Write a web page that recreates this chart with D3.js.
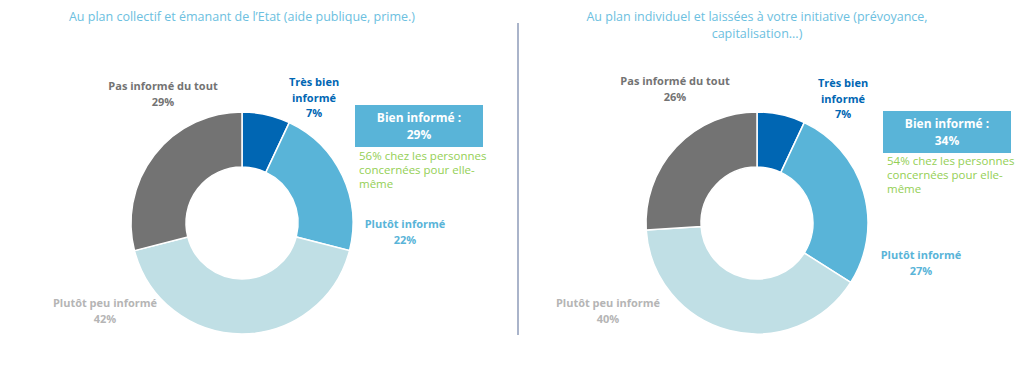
<!DOCTYPE html>
<html>
<head>
  <meta charset="utf-8">
  <title>Niveau d'information</title>
  <style>
    body { margin: 0; background: #fff; }
    text { font-family: "Open Sans", sans-serif; }
  </style>
</head>
<body>
  <svg width="1024" height="376"></svg>
  <script src="https://d3js.org/d3.v7.min.js"></script>
  <script>
    // categories, in clockwise order starting at 12 o'clock
    var categories = ["Très bien informé", "Plutôt informé", "Plutôt peu informé", "Pas informé du tout"];
    var colors = ["#0066b3", "#59b4d8", "#c0dfe5", "#737373"];
    var labelColors = ["#0066b3", "#59b4d8", "#b5b5b5", "#737373"];

    var collectifValues = [7, 22, 42, 29];
    var individuelValues = [7, 27, 40, 26];

    var titles = [
      ["Au plan collectif et émanant de l’Etat (aide publique, prime.)"],
      ["Au plan individuel et laissées à votre initiative (prévoyance,", "capitalisation...)"]
    ];
    var bienInforme = [29, 34];
    var concernees = [56, 54];

    var svg = d3.select("svg");

    // label placement per chart: [x, y] of first line, relative to donut centre
    var charts = [
      {
        values: collectifValues, cx: 242, cy: 223, title: titles[0], bien: bienInforme[0], conc: concernees[0],
        labels: [[72, -137, ["Très bien", "informé"]], [163, 5, ["Plutôt informé"]], [-137, 84, ["Plutôt peu informé"]], [-79, -133, ["Pas informé du tout"]]],
        box: [113, -118], note: [117, -63]
      },
      {
        values: individuelValues, cx: 757, cy: 223, title: titles[1], bien: bienInforme[1], conc: concernees[1],
        labels: [[86, -136, ["Très bien", "informé"]], [164, 36, ["Plutôt informé"]], [-149, 84, ["Plutôt peu informé"]], [-82, -138, ["Pas informé du tout"]]],
        box: [126, -112], note: [130, -58]
      }
    ];

    var pie = d3.pie().sort(null);
    var arc = d3.arc().innerRadius(56).outerRadius(111);

    charts.forEach(function (c) {
      var g = svg.append("g").attr("transform", "translate(" + c.cx + "," + c.cy + ")");

      g.selectAll("path")
        .data(pie(c.values))
        .enter()
        .append("path")
        .attr("d", arc)
        .attr("fill", function (d, i) { return colors[i]; })
        .attr("stroke", "#fff")
        .attr("stroke-width", 1.5);

      // title
      svg.append("g").selectAll("text")
        .data(c.title)
        .enter()
        .append("text")
        .attr("x", c.cx)
        .attr("y", function (d, i) { return 21 + i * 17; })
        .attr("text-anchor", "middle")
        .attr("font-size", 12.5)
        .attr("fill", "#6cc0e0")
        .text(function (d) { return d; });

      // slice labels
      c.labels.forEach(function (l, i) {
        var lines = l[2].concat([c.values[i] + "%"]);
        g.append("g").selectAll("text")
          .data(lines)
          .enter()
          .append("text")
          .attr("x", l[0])
          .attr("y", function (d, j) { return l[1] + j * 15.5; })
          .attr("text-anchor", "middle")
          .attr("font-size", 11)
          .attr("font-weight", "bold")
          .attr("fill", labelColors[i])
          .text(function (d) { return d; });
      });

      // "Bien informé" box
      g.append("rect")
        .attr("x", c.box[0])
        .attr("y", c.box[1])
        .attr("width", 128)
        .attr("height", 42)
        .attr("fill", "#59b4d8");
      g.append("g").selectAll("text")
        .data(["Bien informé :", c.bien + "%"])
        .enter()
        .append("text")
        .attr("x", c.box[0] + 64)
        .attr("y", function (d, j) { return c.box[1] + 17 + j * 17; })
        .attr("text-anchor", "middle")
        .attr("font-size", 12)
        .attr("font-weight", "bold")
        .attr("fill", "#fff")
        .text(function (d) { return d; });

      g.append("g").selectAll("text")
        .data([c.conc + "% chez les personnes", "concernées pour elle-", "même"])
        .enter()
        .append("text")
        .attr("x", c.note[0])
        .attr("y", function (d, j) { return c.note[1] + j * 14; })
        .attr("font-size", 11.5)
        .attr("fill", "#94cf55")
        .text(function (d) { return d; });
    });

    // divider
    svg.append("line")
      .attr("x1", 518).attr("x2", 518)
      .attr("y1", 23).attr("y2", 335)
      .attr("stroke", "#8e9bb9")
      .attr("stroke-width", 1.5);
  </script>
</body>
</html>
